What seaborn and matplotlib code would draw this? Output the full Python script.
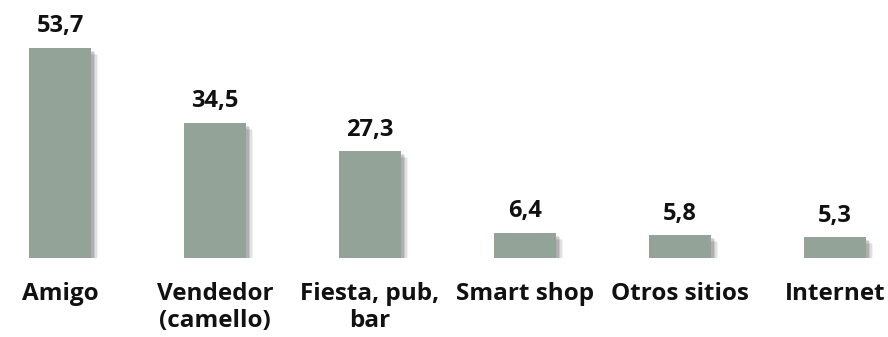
import matplotlib
matplotlib.use("Agg")
import matplotlib.pyplot as plt
import matplotlib.patheffects as pe
import seaborn as sns
import pandas as pd

categories = ["Amigo", "Vendedor\n(camello)", "Fiesta, pub,\nbar", "Smart shop", "Otros sitios", "Internet"]
values = [53.7, 34.5, 27.3, 6.4, 5.8, 5.3]
value_labels = ["53,7", "34,5", "27,3", "6,4", "5,8", "5,3"]

sns.set_theme(style="white")
plt.rcParams["font.family"] = ["Open Sans", "DejaVu Sans"]

df = pd.DataFrame({"origen": categories, "pct": values})

fig = plt.figure(figsize=(8.88, 3.37), dpi=100)
ax = fig.add_axes([0.0, 79 / 337, 1.0, 258 / 337])

sns.barplot(data=df, x="origen", y="pct", color="#94A397", saturation=1,
            width=0.4, ax=ax)

# soft drop shadow on each bar
shadow = [pe.SimplePatchShadow(offset=(d, -d), shadow_rgbFace="#000000", alpha=a)
          for d, a in [(5, 0.05), (4, 0.08), (3, 0.10), (2, 0.12)]]
for bar in ax.patches:
    bar.set_edgecolor("none")
    bar.set_path_effects(shadow + [pe.Normal()])

ax.bar_label(ax.containers[0], labels=value_labels, padding=7,
             fontsize=17, fontweight="bold", color="#111111")

ax.set_xlim(-60 / 155, (888 - 60) / 155)
ax.set_ylim(0, 258 / 3.91)
ax.set_xlabel("")
ax.set_ylabel("")
ax.set_yticks([])
ax.tick_params(axis="x", length=0, pad=17)
for lab in ax.get_xticklabels():
    lab.set_fontsize(17.5)
    lab.set_fontweight("bold")
    lab.set_color("#111111")
    lab.set_linespacing(1.2)
sns.despine(ax=ax, left=True, bottom=True)

fig.savefig("out.png", dpi=100, facecolor="white")
